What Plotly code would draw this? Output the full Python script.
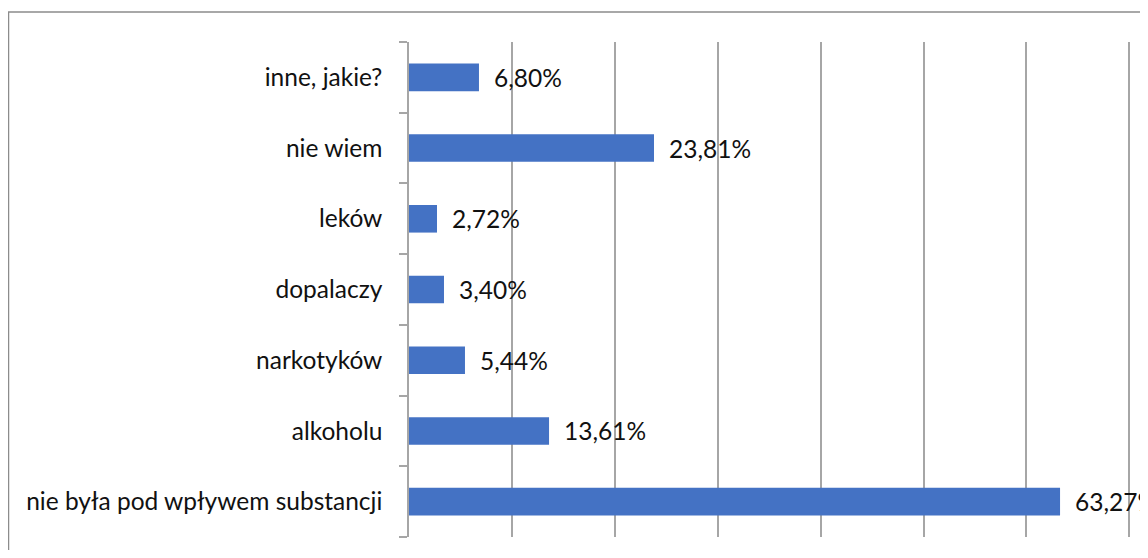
import plotly.graph_objects as go

categories = [
    "nie była pod wpływem substancji",
    "alkoholu",
    "narkotyków",
    "dopalaczy",
    "leków",
    "nie wiem",
    "inne, jakie?",
]
values = [63.27, 13.61, 5.44, 3.40, 2.72, 23.81, 6.80]
labels = [f"{v:.2f}%".replace(".", ",") for v in values]

FONT = "Lato"
FS = 24.5
# the page body adds an 8px margin, so the figure is drawn shifted by 8px
W, H = 1140, 542
L, R, T, B = 401, 0, 34, 13

fig = go.Figure()
fig.add_trace(
    go.Bar(
        x=values,
        y=categories,
        orientation="h",
        marker=dict(color="#4472C4", line=dict(width=0)),
        width=0.39,
        hoverinfo="x+y",
    )
)

# value labels to the right of each bar
for v, c, t in zip(values, categories, labels):
    fig.add_annotation(
        x=v, y=c, text=t, showarrow=False,
        xanchor="left", xshift=13,
        font=dict(family=FONT, size=FS, color="#111111"),
    )

# outer chart border (clipped at right/bottom in the reference)
plot_w = W - L - R
plot_h = H - T - B
fig.add_shape(
    type="rect", xref="paper", yref="paper",
    x0=(0.5 - L) / plot_w, x1=1.2,
    y0=-0.2, y1=(H - B - 4) / plot_h,
    line=dict(color="#8c8c8c", width=1.5),
    fillcolor="rgba(0,0,0,0)",
    layer="below",
)

fig.update_layout(
    width=W,
    height=H,
    margin=dict(l=L, r=R, t=T, b=B),
    paper_bgcolor="white",
    plot_bgcolor="white",
    showlegend=False,
    font=dict(family=FONT, size=FS, color="#111111"),
    xaxis=dict(
        range=[0, plot_w / 10.29],
        dtick=10,
        showgrid=True,
        gridcolor="#a6a6a6",
        gridwidth=1.5,
        showticklabels=False,
        zeroline=False,
        showline=False,
        ticks="",
    ),
    yaxis=dict(
        showline=True,
        linecolor="#a6a6a6",
        linewidth=1.5,
        ticks="outside",
        tickson="boundaries",
        ticklen=8,
        tickcolor="#a6a6a6",
        tickwidth=1.5,
        ticklabelstandoff=20,
        showgrid=False,
        zeroline=False,
    ),
)

fig.write_html("out.html")
